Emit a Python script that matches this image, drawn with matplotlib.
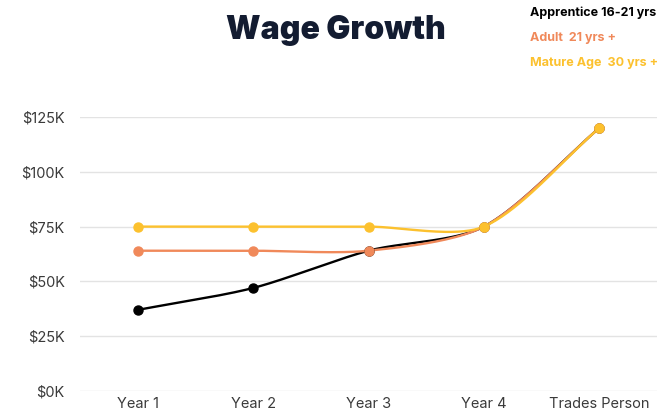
import numpy as np
import matplotlib.pyplot as plt

categories = ['Year 1', 'Year 2', 'Year 3', 'Year 4', 'Trades Person']
apprentice = [37000, 47000, 64000, 75000, 120000]
adult = [64000, 64000, 64000, 75000, 120000]
mature = [75000, 75000, 75000, 75000, 120000]
series_names = ['Apprentice 16-21 yrs', 'Adult  21 yrs +', 'Mature Age  30 yrs +']
colors = ['#000000', '#f0895a', '#fcc12e']

yticks = [0, 25000, 50000, 75000, 100000, 125000]


def smooth(xs, ys, sx, sy, tension=0.28, n=40):
    # cardinal spline like chart.js, control points worked out in pixel space
    px = np.array(xs, float) * sx
    py = np.array(ys, float) * sy
    m = len(px)
    cps = []
    for i in range(m):
        prev = i - 1 if i > 0 else i
        nxt = i + 1 if i < m - 1 else i
        d01 = np.hypot(px[i] - px[prev], py[i] - py[prev])
        d12 = np.hypot(px[nxt] - px[i], py[nxt] - py[i])
        s01 = d01 / (d01 + d12) if d01 + d12 else 0
        s12 = d12 / (d01 + d12) if d01 + d12 else 0
        fa, fb = tension * s01, tension * s12
        dx, dy = px[nxt] - px[prev], py[nxt] - py[prev]
        cps.append(((px[i] - fa * dx, py[i] - fa * dy), (px[i] + fb * dx, py[i] + fb * dy)))
    outx, outy = [], []
    t = np.linspace(0, 1, n)
    for i in range(m - 1):
        p0 = (px[i], py[i])
        p1 = cps[i][1]
        p2 = cps[i + 1][0]
        p3 = (px[i + 1], py[i + 1])
        bx = (1 - t) ** 3 * p0[0] + 3 * (1 - t) ** 2 * t * p1[0] + 3 * (1 - t) * t ** 2 * p2[0] + t ** 3 * p3[0]
        by = (1 - t) ** 3 * p0[1] + 3 * (1 - t) ** 2 * t * p1[1] + 3 * (1 - t) * t ** 2 * p2[1] + t ** 3 * p3[1]
        outx.extend(bx)
        outy.extend(by)
    return np.array(outx) / sx, np.array(outy) / sy


fig = plt.figure(figsize=(6.71, 4.15), dpi=100)
ax = fig.add_axes([80 / 671, 24 / 415, 577 / 671, (391 - 117) / 415])

x = np.arange(len(categories))
sx, sy = 115.3, 274 / 125000
for vals, col in zip([apprentice, adult, mature], colors):
    cx, cy = smooth(x, vals, sx, sy)
    ax.plot(cx, cy, color=col, lw=1.7, solid_capstyle='round', zorder=3)
    ax.plot(x, vals, 'o', color=col, ms=6.5, zorder=4)

ax.set_xlim(-0.5, 4.5)
ax.set_ylim(0, 125000)
ax.set_yticks(yticks)
ax.set_yticklabels(['$%dK' % (v // 1000) for v in yticks])
ax.set_xticks(x)
ax.set_xticklabels(categories)
ax.grid(axis='y', color='#e3e3e3', lw=1)
ax.set_axisbelow(True)
for s in ax.spines.values():
    s.set_visible(False)
ax.tick_params(axis='both', length=0, labelsize=10.5, labelcolor='#3a3a3a')
ax.tick_params(axis='y', pad=11)
ax.tick_params(axis='x', pad=4)
for lab in ax.get_xticklabels() + ax.get_yticklabels():
    lab.set_family('Inter')

fig.text(0.5, 1 - 31 / 415, 'Wage Growth', ha='center', va='center', fontsize=23,
         fontweight='black', family='Inter', color='#131c31')

for i, (name, col) in enumerate(zip(series_names, colors)):
    fig.text(530 / 671, 1 - (13 + 25 * i) / 415, name, ha='left', va='center', fontsize=9,
             fontweight='bold', family='Inter', color=col)

fig.savefig('out.png', dpi=100)
